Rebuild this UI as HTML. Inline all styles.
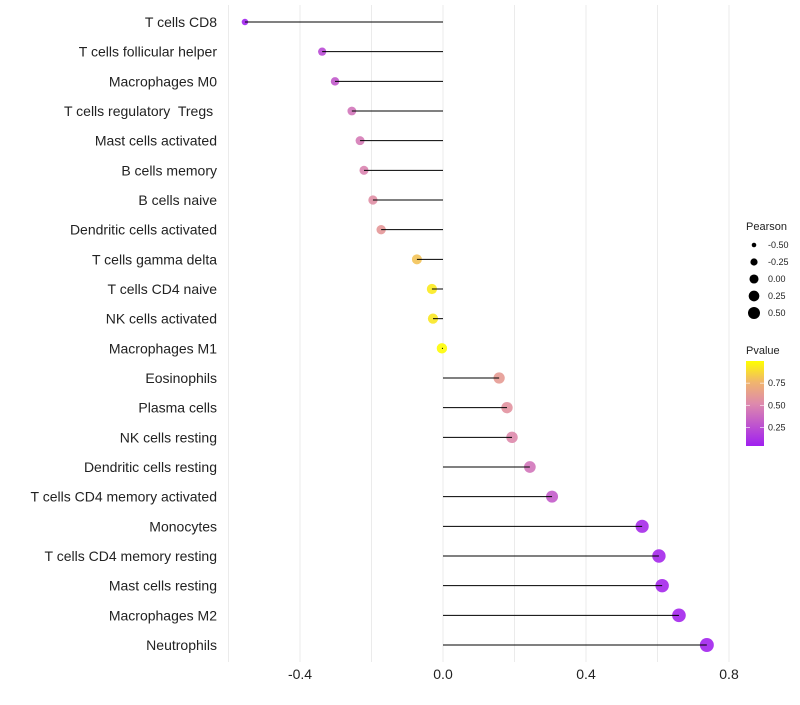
<!DOCTYPE html>
<html><head><meta charset="utf-8"><style>
body{margin:0;background:#fff;font-family:"Liberation Sans",sans-serif}
text{white-space:pre}
</style></head><body>
<svg id="chart" width="800" height="700" xmlns="http://www.w3.org/2000/svg">
<g id="grid"></g><g id="marks"></g><g id="labels"></g><g id="legend"></g>
</svg>
<script>
const categories=["T cells CD8","T cells follicular helper","Macrophages M0","T cells regulatory  Tregs ","Mast cells activated","B cells memory","B cells naive","Dendritic cells activated","T cells gamma delta","T cells CD4 naive","NK cells activated","Macrophages M1","Eosinophils","Plasma cells","NK cells resting","Dendritic cells resting","T cells CD4 memory activated","Monocytes","T cells CD4 memory resting","Mast cells resting","Macrophages M2","Neutrophils"];
const pearson=[-0.554,-0.338,-0.302,-0.255,-0.232,-0.221,-0.196,-0.173,-0.073,-0.031,-0.028,-0.003,0.157,0.179,0.193,0.243,0.305,0.557,0.604,0.613,0.66,0.738];
const pvalues=[0.01,0.2,0.27,0.4,0.43,0.47,0.53,0.58,0.8,0.93,0.92,0.99,0.6,0.55,0.5,0.4,0.28,0.05,0.04,0.04,0.03,0.02];
const xTicks=[-0.4,0,0.4,0.8];
const gridVals=[-0.6,-0.4,-0.2,0,0.2,0.4,0.6,0.8];
const sizeLegend=[-0.5,-0.25,0,0.25,0.5];
const pLegend=[0.25,0.5,0.75];
const NS="http://www.w3.org/2000/svg";
const X=v=>443+v*357.5;
const Y=i=>22+i*(623/21);
const R=v=>Math.sqrt(Math.max(4,27+29.6*v));
const LR=v=>Math.sqrt(Math.max(4,20.6+30.7*v));
const stops=[[0,[160,32,240]],[0.5,[222,138,172]],[0.75,[240,180,110]],[1,[255,255,0]]];
function col(p){for(let k=1;k<stops.length;k++){if(p<=stops[k][0]){const[a0,a]=stops[k-1],[b0,b]=stops[k];const t=(p-a0)/(b0-a0);
 return `rgb(${a.map((x,j)=>Math.round(x+(b[j]-x)*t))})`;}}return 'rgb(255,255,0)';}
function el(tag,attrs,parent,text){const e=document.createElementNS(NS,tag);for(const k in attrs)e.setAttribute(k,attrs[k]);if(text!==undefined)e.textContent=text;parent.appendChild(e);return e;}
const grid=document.getElementById('grid'),marks=document.getElementById('marks'),labels=document.getElementById('labels'),legend=document.getElementById('legend');
gridVals.forEach(v=>{const l=el('line',{x1:X(v),x2:X(v),y1:5,y2:662,stroke:'#ebebeb','stroke-width':1},grid);

});
xTicks.forEach(v=>{const t=el('text',{x:X(v),y:679,'text-anchor':'middle','font-size':14,fill:'#222'},labels,v===0?'0.0':v.toFixed(1));

});
categories.forEach((c,i)=>{
 const t=el('text',{x:217,y:Y(i)+5,'text-anchor':'end','font-size':14,fill:'#222'},labels,c);
 
 
 const d=el('circle',{cx:X(pearson[i]),cy:Y(i),r:R(pearson[i]),fill:col(pvalues[i]),'fill-opacity':0.9},marks);
 
 
 const l=el('line',{x1:X(0),x2:X(pearson[i]),y1:Y(i),y2:Y(i),stroke:'#000','stroke-width':1},marks);
 
 
});
let t=el('text',{x:746,y:230,'font-size':11,fill:'#222'},legend,'Pearson');


sizeLegend.forEach((v,i)=>{const y=245+i*17;
 const c=el('circle',{cx:754,cy:y,r:LR(v),fill:'#000'},legend);
 
 
 const tt=el('text',{x:768,y:y+3,'font-size':9,fill:'#222'},legend,v.toFixed(2));
 
 });
const defs=el('defs',{},legend);const g=el('linearGradient',{id:'pg',x1:0,y1:1,x2:0,y2:0},defs);
stops.forEach(s=>el('stop',{offset:s[0],'stop-color':col(s[0])},g));
t=el('text',{x:746,y:354,'font-size':11,fill:'#222'},legend,'Pvalue');


const bar=el('rect',{x:746,y:361,width:18,height:85,fill:'url(#pg)'},legend);


pLegend.forEach(p=>{const y=446-(p-0.04)/0.96*85;
 el('line',{x1:746,x2:750,y1:y,y2:y,stroke:'#fff','stroke-width':0.6},legend);
 el('line',{x1:760,x2:764,y1:y,y2:y,stroke:'#fff','stroke-width':0.6},legend);
 const tt=el('text',{x:768,y:y+3,'font-size':9,fill:'#222'},legend,p.toFixed(2));
 
 });
</script>
</body></html>
